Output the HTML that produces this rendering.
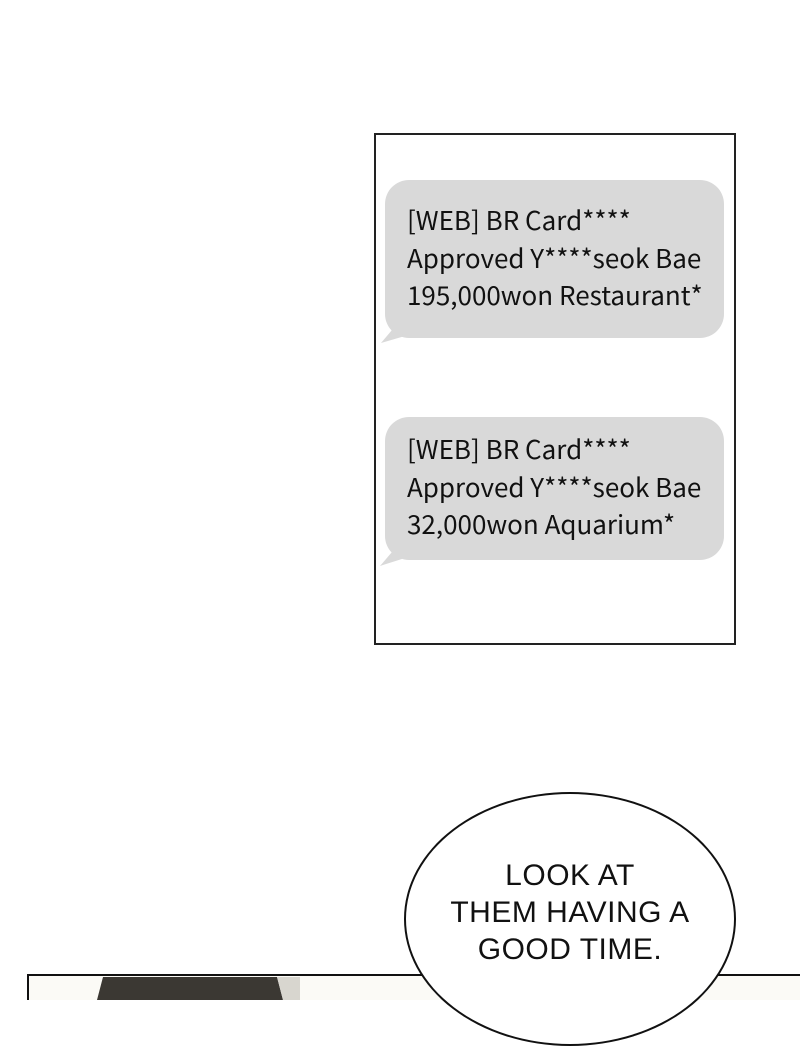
<!DOCTYPE html>
<html><head><style>
html,body{margin:0;padding:0;background:#fff;}
body{width:800px;height:1000px;position:relative;overflow:hidden;}
.box{position:absolute;left:374px;top:133px;width:358px;height:508px;border:2px solid #222;background:#fff;}
.bub{position:absolute;left:385px;width:339px;background:#d9d9d9;border-radius:24px;}
.txt{position:absolute;left:407px;font-family:"Noto Sans CJK KR","Liberation Sans",sans-serif;font-size:26px;line-height:37.5px;color:#111;white-space:nowrap;}
.el{position:absolute;left:404px;top:792px;width:328px;height:250px;border:2px solid #111;border-radius:50%;background:#fff;}
.et{position:absolute;left:404px;width:332px;top:857px;text-align:center;font-family:"Liberation Sans Narrow","Liberation Sans",sans-serif;font-size:30px;line-height:37px;color:#111;letter-spacing:0.5px;}
</style></head><body>
<div class="box"></div>
<div class="bub" style="top:180px;height:158px"></div>
<svg style="position:absolute;left:0;top:0" width="800" height="1000">
<polygon points="392,330 381,343 405,336" fill="#d9d9d9"/>
<polygon points="392,552 380,566 405,558" fill="#d9d9d9"/>
<rect x="28" y="975" width="800" height="30" fill="#fbfaf6" stroke="#111" stroke-width="2"/>
<polygon points="103,977 277,977 283,1000 97,1000" fill="#3b3833"/>
<polygon points="277,977 300,977 300,1000 283,1000" fill="#d8d6cf"/>
</svg>
<div class="bub" style="top:417px;height:143px"></div>
<div class="txt" style="top:201px">[WEB] BR Card****<br>Approved Y****seok Bae<br>195,000won Restaurant*</div>
<div class="txt" style="top:430px">[WEB] BR Card****<br>Approved Y****seok Bae<br>32,000won Aquarium*</div>
<div class="el"></div>
<div class="et">LOOK AT<br>THEM HAVING A<br>GOOD TIME.</div>
</body></html>
